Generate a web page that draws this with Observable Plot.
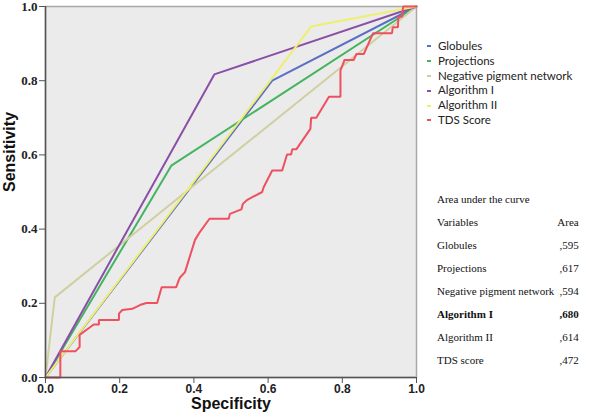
<!DOCTYPE html>
<html><head><meta charset="utf-8">
<script src="https://cdn.jsdelivr.net/npm/d3@7"></script>
<script src="https://cdn.jsdelivr.net/npm/@observablehq/plot@0.6"></script>
<style>
body{margin:0;background:#fff;}
#wrap{position:relative;width:600px;height:416px;}
#legend{position:absolute;left:425px;top:39px;font-family:Lato,sans-serif;font-size:11.5px;color:#222;}
.lg{height:14.8px;line-height:14.8px;display:flex;align-items:center;white-space:nowrap}
.sw{width:4px;height:2px;margin-right:7px;margin-left:2px}
#auc{position:absolute;left:437px;top:187px;font-family:"Liberation Serif",serif;font-size:11px;color:#111;}
#auc table{border-collapse:collapse;width:137px;table-layout:auto}
#auc td{padding:0;height:23px;vertical-align:middle;white-space:nowrap}
#auc td.v{text-align:right;padding-left:3px}
</style></head>
<body><div id="wrap"></div>
<script>
// Series names and colours
const series = ["Globules","Projections","Negative pigment network","Algorithm I","Algorithm II","TDS Score"];
const colors = ["#5b6fc4","#45b460","#cfcfa0","#8a4fa6","#eeee70","#ef5060"];

// ROC points (x = axis "Specificity", y = Sensitivity)
const globulesX = [0, 0.611, 1];
const globulesY = [0, 0.800, 1];
const projectionsX = [0, 0.339, 1];
const projectionsY = [0, 0.571, 1];
const negPigX = [0, 0.025, 1];
const negPigY = [0, 0.216, 1];
const alg1X = [0, 0.455, 1];
const alg1Y = [0, 0.817, 1];
const alg2X = [0, 0.716, 1];
const alg2Y = [0, 0.946, 1];
const tdsX = [0, 0.040, 0.040, 0.081, 0.092, 0.092, 0.121, 0.130, 0.144, 0.144, 0.198, 0.198, 0.207, 0.234, 0.256, 0.272, 0.301, 0.313, 0.352, 0.362, 0.376, 0.403, 0.416, 0.442, 0.494, 0.497, 0.528, 0.532, 0.544, 0.584, 0.588, 0.611, 0.638, 0.651, 0.662, 0.665, 0.676, 0.714, 0.716, 0.730, 0.764, 0.795, 0.795, 0.806, 0.831, 0.838, 0.858, 0.883, 0.934, 0.936, 0.950, 0.951, 0.961, 0.964, 1];
const tdsY = [0, 0, 0.071, 0.071, 0.082, 0.115, 0.136, 0.143, 0.143, 0.155, 0.155, 0.172, 0.182, 0.185, 0.196, 0.201, 0.201, 0.243, 0.243, 0.269, 0.284, 0.371, 0.392, 0.428, 0.428, 0.441, 0.453, 0.468, 0.479, 0.500, 0.513, 0.558, 0.558, 0.601, 0.601, 0.615, 0.615, 0.670, 0.700, 0.700, 0.757, 0.757, 0.827, 0.856, 0.856, 0.872, 0.872, 0.928, 0.928, 0.944, 0.944, 0.971, 0.973, 1.0, 1];

const ticks = [0, 0.2, 0.4, 0.6, 0.8, 1.0];

// Area under the curve table
const aucTitle = "Area under the curve";
const aucHeader = ["Variables", "Area"];
const aucNames = ["Globules","Projections","Negative pigment network","Algorithm I","Algorithm II","TDS score"];
const aucValues = [",595", ",617", ",594", ",680", ",614", ",472"];
const aucBold = [false, false, false, true, false, false];

const xs = [globulesX, projectionsX, negPigX, alg1X, alg2X, tdsX];
const ys = [globulesY, projectionsY, negPigY, alg1Y, alg2Y, tdsY];
const rows = [];
series.forEach((s, i) => xs[i].forEach((x, j) => rows.push({series: s, x, y: ys[i][j]})));

const fmt = d3.format(".1f");
const chart = Plot.plot({
  width: 600, height: 416,
  marginLeft: 45, marginRight: 184, marginTop: 6, marginBottom: 39,
  x: {domain: [0, 1]},
  y: {domain: [0, 1]},
  color: {domain: series, range: colors},
  style: {background: "transparent"},
  marks: [
    Plot.frame({fill: "#ebebeb", stroke: "#a8a8a8", strokeWidth: 1.5}),
    Plot.line(rows, {x: "x", y: "y", z: "series", stroke: "series", strokeWidth: 2, strokeLinejoin: "miter"}),
    Plot.ruleX([0], {stroke: "#555", strokeWidth: 1.5}),
    Plot.ruleY([0], {stroke: "#555", strokeWidth: 1.5}),
    Plot.axisX({ticks, tickFormat: fmt, tickSize: 6, tickPadding: 1, label: null, fontSize: 12, fontWeight: "bold", fontFamily: "Arial, 'Liberation Sans', sans-serif", stroke: "#555", fill: "#222"}),
    Plot.axisY({ticks, tickFormat: fmt, tickSize: 6, tickPadding: 2, label: null, fontSize: 13, fontWeight: "bold", fontFamily: "'Liberation Serif', serif", stroke: "#555", fill: "#222"}),
    Plot.text(["Specificity"], {frameAnchor: "bottom", dy: 31, fontSize: 16, fontWeight: "bold", fontFamily: "Arial, 'Liberation Sans', sans-serif", fill: "#111"}),
    Plot.text(["Sensitivity"], {frameAnchor: "left", dx: -36, rotate: -90, fontSize: 16, fontWeight: "bold", fontFamily: "Arial, 'Liberation Sans', sans-serif", fill: "#111"})
  ]
});
const wrap = document.getElementById("wrap");
wrap.appendChild(chart);

// legend
const lg = document.createElement("div");
lg.id = "legend";
series.forEach((s, i) => {
  const r = document.createElement("div");
  r.className = "lg";
  r.innerHTML = `<span class="sw" style="background:${colors[i]}"></span><span>${s}</span>`;
  lg.appendChild(r);
});
wrap.appendChild(lg);

// AUC table
const auc = document.createElement("div");
auc.id = "auc";
let html = `<table><tr><td colspan="2">${aucTitle}</td></tr>`;
html += `<tr><td>${aucHeader[0]}</td><td class="v">${aucHeader[1]}</td></tr>`;
aucNames.forEach((n, i) => {
  const st = aucBold[i] ? "font-weight:bold" : "";
  html += `<tr><td style="${st}">${n}</td><td class="v" style="${st}">${aucValues[i]}</td></tr>`;
});
html += `</table>`;
auc.innerHTML = html;
wrap.appendChild(auc);
</script>
</body></html>
